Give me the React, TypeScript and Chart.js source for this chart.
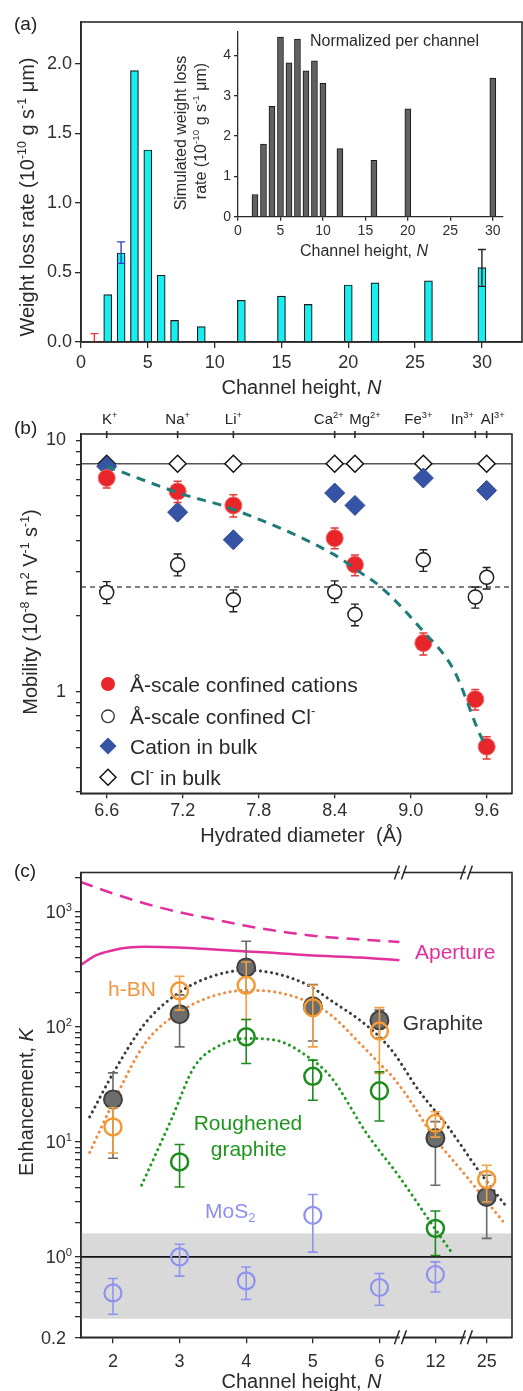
import React, { useEffect, useRef } from 'react';
import { Chart, registerables } from 'chart.js';

Chart.register(...registerables);

const FONT = '"Liberation Sans", Arial, Helvetica, sans-serif';
const INK = '#2a2a2a';

// ---------------- Panel (a): measured weight loss rate
const aChannel = [2, 3, 4, 5, 6, 7, 9, 12, 15, 17, 20, 22, 26, 30];
const aRate = [0.34, 0.64, 1.95, 1.38, 0.48, 0.155, 0.11, 0.30, 0.33, 0.27, 0.41, 0.425, 0.44, 0.535];
const aErrChannel = [1, 3, 30];
const aErrLow = [0, 0.565, 0.40];
const aErrHigh = [0.06, 0.72, 0.665];
const aErrColor = ['#e04040', '#2f3fd0', '#222222'];
const aXTicks = [0, 5, 10, 15, 20, 25, 30];
const aYTicks = [0, 0.5, 1.0, 1.5, 2.0];

// inset: simulated, normalized per channel
const insetChannel = [2, 3, 4, 5, 6, 7, 8, 9, 10, 12, 16, 20, 30];
const insetRate = [0.55, 1.80, 2.74, 4.46, 3.82, 4.41, 3.62, 3.87, 3.31, 1.69, 1.40, 2.68, 3.44];
const insetXTicks = [0, 5, 10, 15, 20, 25, 30];
const insetYTicks = [0, 1, 2, 3, 4];

// ---------------- Panel (b): mobility vs hydrated diameter
const ionName = ['K', 'Na', 'Li', 'Ca', 'Mg', 'Fe', 'In', 'Al'];
const ionCharge = ['+', '+', '+', '2+', '2+', '3+', '3+', '3+'];
const ionDiameter = [6.6, 7.16, 7.6, 8.4, 8.56, 9.1, 9.51, 9.6];
const ionLabelShift = [3, 0, 0, -6, 10, -5, -13, 6];
const cationConfined = [7.08, 6.26, 5.51, 4.08, 3.20, 1.56, 0.933, 0.604];
const cationConfinedLo = [6.46, 5.66, 4.95, 3.70, 2.89, 1.40, 0.845, 0.54];
const cationConfinedHi = [7.42, 6.87, 6.08, 4.48, 3.50, 1.71, 1.02, 0.662];
const chlorideConfined = [2.48, 3.20, 2.32, 2.50, 2.03, 3.35, 2.38, 2.85];
const chlorideConfinedLo = [2.24, 2.89, 2.08, 2.26, 1.83, 3.01, 2.15, 2.56];
const chlorideConfinedHi = [2.74, 3.53, 2.54, 2.76, 2.23, 3.67, 2.61, 3.12];
const cationBulk = [7.88, 5.18, 4.02, 6.17, 5.51, 7.08, null, 6.32];
const chlorideBulk = [8.07, 8.07, 8.07, 8.07, 8.07, 8.07, null, 8.07];
const chlorideBulkLevel = 8.07;
const chlorideConfinedLevel = 2.61;
const fitDiameter = [6.6, 7.21, 7.57, 8.4, 8.59, 8.76, 9.09, 9.34, 9.555, 9.6];
const fitMobility = [7.88, 6.08, 5.38, 3.50, 3.01, 2.62, 1.76, 1.22, 0.662, 0.602];
const bXTicks = [6.6, 7.2, 7.8, 8.4, 9.0, 9.6];
const bYTicks = [0.4, 0.5, 0.6, 0.7, 0.8, 0.9, 1, 2, 3, 4, 5, 6, 7, 8, 9, 10];

// ---------------- Panel (c): enhancement vs channel height (broken axis)
const cChannelLabels = ['2', '3', '4', '5', '6', '12', '25'];
const cSlot = [0, 1, 2, 3, 4, 4.84, 5.61];
const cBreakSlots = [4.33, 5.32];
const graphiteK = [23.4, 129, 329, 151, 114, 10.8, 3.32];
const graphiteLo = [7.2, 67, 200, 75.5, 80, 4.2, 1.45];
const graphiteHi = [39.8, 190, 556, 234, 140, 15, 5.13];
const hbnK = [13.5, 206, 230, 147, 92, 14.5, 4.71];
const hbnLo = [8.0, 140, 116, 67, 39.3, 11, 3.0];
const hbnHi = [19.8, 276, 367, 230, 147, 18.3, 6.27];
const roughK = [null, 6.7, 81.9, 37.2, 27.8, 1.77, null];
const roughLo = [null, 4.06, 48, 23, 15.2, 1.03, null];
const roughHi = [null, 9.5, 116, 51.4, 40.6, 2.51, null];
const mos2K = [0.486, 1.0, 0.619, 2.30, 0.542, 0.703, null];
const mos2Lo = [0.317, 0.68, 0.426, 1.1, 0.38, 0.496, null];
const mos2Hi = [0.65, 1.29, 0.818, 3.49, 0.717, 0.905, null];
const graphiteFitSlot = [-0.35, 0, 0.48, 0.97, 1.46, 2.0, 2.44, 2.93, 3.27, 3.71, 4.0, 4.2, 4.59, 5.03, 5.52, 5.91];
const graphiteFitK = [16.5, 39.3, 107, 195, 272, 311, 291, 230, 170, 114, 82, 61, 28, 13.5, 5.31, 2.72];
const hbnFitSlot = [-0.35, 0.02, 0.48, 0.97, 1.46, 2.0, 2.44, 2.93, 3.27, 3.71, 4.0, 4.2, 4.49, 4.78, 5.27, 5.86];
const hbnFitK = [8.1, 23, 71.7, 131, 182, 208, 201, 165, 127, 71.7, 48, 36.7, 21.6, 11.8, 5.31, 2.02];
const roughFitSlot = [0.43, 0.87, 1.22, 1.56, 2.0, 2.44, 2.93, 3.27, 3.81, 4.3, 4.78, 5.08];
const roughFitK = [4.2, 15.4, 44.9, 67, 79.3, 76.6, 54.8, 36.7, 11.8, 4.96, 1.95, 1.1];
const apertureUpperSlot = [-0.49, 0, 0.48, 0.97, 1.46, 1.95, 2.44, 2.93, 3.71, 4.3];
const apertureUpperK = [1824, 1445, 1183, 1000, 876, 766, 684, 627, 575, 548];
const apertureSlot = [-0.49, -0.25, 0, 0.24, 0.48, 0.97, 1.46, 1.95, 2.44, 2.93, 3.71, 4.3];
const apertureK = [344, 420, 464, 490, 497, 490, 474, 455, 440, 420, 401, 380];
const bandLow = 0.29;
const bandHigh = 1.6;
const unityK = 1;
const cYTicks = [0.2, 0.3, 0.4, 0.5, 0.6, 0.7, 0.8, 0.9, 1, 2, 3, 4, 5, 6, 7, 8, 9, 10, 20, 30, 40, 50, 60, 70, 80, 90,
  100, 200, 300, 400, 500, 600, 700, 800, 900, 1000, 2000];
const cYLabelValues = [1000, 100, 10, 1];
const cYLabelExp = ['3', '2', '1', '0'];

// ---------------- helpers
type Seg = [string, string?];

function segFont(kind: string | undefined, size: number) {
  const s = kind === 'sup' || kind === 'sub' ? size * 0.62 : size;
  const st = kind === 'i' ? 'italic ' : '';
  return `${st}${s}px ${FONT}`;
}

function drawRich(ctx: CanvasRenderingContext2D, segs: Seg[], x: number, y: number, size: number, color: string,
  align: 'left' | 'center' | 'right' = 'left', angle = 0) {
  ctx.save();
  ctx.translate(x, y);
  if (angle) ctx.rotate(angle);
  ctx.fillStyle = color;
  ctx.textBaseline = 'alphabetic';
  ctx.textAlign = 'left';
  const widths = segs.map(([t, k]) => { ctx.font = segFont(k, size); return ctx.measureText(t).width; });
  const total = widths.reduce((a, b) => a + b, 0);
  let cx = align === 'center' ? -total / 2 : align === 'right' ? -total : 0;
  const base = size * 0.36;
  segs.forEach(([t, k], i) => {
    ctx.font = segFont(k, size);
    let dy = base;
    if (k === 'sup') dy = base - size * 0.42;
    if (k === 'sub') dy = base + size * 0.2;
    ctx.fillText(t, cx, dy);
    cx += widths[i];
  });
  ctx.restore();
}

function frame(chart: any, lw = 1.6) {
  const { ctx, chartArea: a } = chart;
  ctx.save();
  ctx.strokeStyle = INK;
  ctx.lineWidth = lw;
  ctx.strokeRect(a.left, a.top, a.right - a.left, a.bottom - a.top);
  ctx.restore();
}

function axis(o: any) {
  const { size = 18, tickLen = 6, pad = 3, fit, ticks, label, borderW = 1.6, ...rest } = o;
  return {
    ...rest,
    offset: false,
    afterFit: fit,
    afterBuildTicks: (s: any) => { s.ticks = ticks.map((v: number) => ({ value: v })); },
    grid: { drawOnChartArea: false, drawTicks: true, tickLength: tickLen, color: INK, lineWidth: 1.3, offset: false },
    border: { display: true, color: INK, width: borderW },
    ticks: { font: { size, family: FONT }, color: '#2f2f2f', padding: pad, maxRotation: 0, minRotation: 0, autoSkip: false, callback: label },
  };
}

function errBar(ctx: any, x: number, y1: number, y2: number, cap: number) {
  ctx.beginPath();
  ctx.moveTo(x, y1); ctx.lineTo(x, y2);
  ctx.moveTo(x - cap, y1); ctx.lineTo(x + cap, y1);
  ctx.moveTo(x - cap, y2); ctx.lineTo(x + cap, y2);
  ctx.stroke();
}

const errorBarPlugin = {
  id: 'errorBars',
  beforeDatasetDraw(chart: any, args: any) {
    const ds: any = chart.data.datasets[args.index];
    if (!ds.errLo) return;
    const ys = chart.scales.y;
    const ctx = chart.ctx;
    ctx.save();
    ctx.strokeStyle = ds.errColor;
    ctx.lineWidth = ds.errWidth || 1.4;
    args.meta.data.forEach((el: any, i: number) => {
      const lo = ds.errLo[i], hi = ds.errHi[i];
      if (lo == null || hi == null) return;
      errBar(ctx, el.x, ys.getPixelForValue(lo), ys.getPixelForValue(hi), ds.capW || 4);
    });
    ctx.restore();
  },
};

function series(xs: number[], ys: (number | null)[], lo?: (number | null)[], hi?: (number | null)[]) {
  const data: any[] = [], l: any[] = [], h: any[] = [];
  xs.forEach((x, i) => {
    if (ys[i] == null) return;
    data.push({ x, y: ys[i] });
    l.push(lo ? lo[i] : null);
    h.push(hi ? hi[i] : null);
  });
  return { data, errLo: lo ? l : undefined, errHi: hi ? h : undefined };
}

const baseOpts = (padTop: number, padRight: number) => ({
  animation: false as const,
  responsive: false,
  events: [] as any[],
  layout: { padding: { left: 0, top: padTop, right: padRight, bottom: 0 } },
  plugins: { legend: { display: false }, tooltip: { enabled: false } },
});

// ---------------- Panel (a)
function makeA(canvas: HTMLCanvasElement) {
  const W = 523, H = 405;
  const area = { left: 81, top: 22, right: 522, bottom: 342 };
  const plugin = {
    id: 'panelA',
    afterDatasetsDraw(chart: any) {
      const { ctx, scales: { x, y } } = chart;
      ctx.save();
      ctx.lineWidth = 1.4;
      aErrChannel.forEach((n, i) => {
        ctx.strokeStyle = aErrColor[i];
        errBar(ctx, x.getPixelForValue(n), y.getPixelForValue(aErrLow[i]), y.getPixelForValue(aErrHigh[i]), 4);
      });
      ctx.restore();
    },
    afterDraw(chart: any) {
      const ctx = chart.ctx;
      frame(chart);
      drawRich(ctx, [['(a)']], 14, 23, 19, '#222');
      drawRich(ctx, [['Channel height, '], ['N', 'i']], 301.5, 387, 20, '#2a2a2a', 'center');
      drawRich(ctx, [['Weight loss rate (10'], ['-10', 'sup'], [' g s'], ['-1', 'sup'], [' μm)']], 27, 197, 20, '#2a2a2a', 'center', -Math.PI / 2);
    },
  };
  return new Chart(canvas, {
    type: 'bar',
    data: {
      datasets: [{
        data: aChannel.map((x, i) => ({ x, y: aRate[i] })),
        backgroundColor: '#18eef0', borderColor: '#1b1b1b', borderWidth: 1.2, barThickness: 8,
      } as any],
    },
    options: {
      ...baseOpts(area.top, W - area.right),
      scales: {
        x: axis({ type: 'linear', min: 0, max: 33, fit: (s: any) => { s.height = H - area.bottom; }, ticks: aXTicks, label: (v: any) => String(v), pad: 4 }),
        y: axis({ type: 'linear', min: 0, max: 2.3, fit: (s: any) => { s.width = area.left; }, ticks: aYTicks, label: (v: any) => Number(v).toFixed(1) }),
      },
    } as any,
    plugins: [plugin],
  });
}

function makeInset(canvas: HTMLCanvasElement) {
  const W = 373, H = 250;
  const area = { left: 88, top: 6.7, right: 353, bottom: 196.7 };
  const plugin = {
    id: 'inset',
    afterDraw(chart: any) {
      const ctx = chart.ctx;
      drawRich(ctx, [['Normalized per channel']], 160, 20, 16, '#2a2a2a');
      drawRich(ctx, [['Channel height, '], ['N', 'i']], 214, 230, 16, '#2a2a2a', 'center');
      drawRich(ctx, [['Simulated weight loss']], 30, 113, 16, '#2a2a2a', 'center', -Math.PI / 2);
      drawRich(ctx, [['rate (10'], ['-10', 'sup'], [' g s'], ['-1', 'sup'], [' μm)']], 50, 111, 16, '#2a2a2a', 'center', -Math.PI / 2);
    },
  };
  return new Chart(canvas, {
    type: 'bar',
    data: {
      datasets: [{
        data: insetChannel.map((x, i) => ({ x, y: insetRate[i] })),
        backgroundColor: '#616161', borderColor: '#151515', borderWidth: 1, barThickness: 6,
      } as any],
    },
    options: {
      ...baseOpts(area.top, W - area.right),
      scales: {
        x: axis({ type: 'linear', min: 0, max: 31.2, size: 14, tickLen: 4, pad: 2, borderW: 1.3, fit: (s: any) => { s.height = H - area.bottom; }, ticks: insetXTicks, label: (v: any) => String(v) }),
        y: axis({ type: 'linear', min: 0, max: 4.6, size: 14, tickLen: 4, pad: 3, borderW: 1.3, fit: (s: any) => { s.width = area.left; }, ticks: insetYTicks, label: (v: any) => String(v) }),
      },
    } as any,
    plugins: [plugin],
  });
}

// ---------------- Panel (b)
function makeB(canvas: HTMLCanvasElement) {
  const W = 523, H = 445;
  const area = { left: 81, top: 29, right: 522, bottom: 388.3 };
  const plugin = {
    id: 'panelB',
    beforeDatasetsDraw(chart: any) {
      const { ctx, chartArea: a, scales: { y } } = chart;
      ctx.save();
      ctx.strokeStyle = '#555';
      ctx.lineWidth = 1.5;
      let py = y.getPixelForValue(chlorideBulkLevel);
      ctx.beginPath(); ctx.moveTo(a.left, py); ctx.lineTo(a.right, py); ctx.stroke();
      py = y.getPixelForValue(chlorideConfinedLevel);
      ctx.setLineDash([5, 4]);
      ctx.beginPath(); ctx.moveTo(a.left, py); ctx.lineTo(a.right, py); ctx.stroke();
      ctx.restore();
    },
    afterDraw(chart: any) {
      const { ctx, chartArea: a, scales: { x } } = chart;
      frame(chart);
      ctx.save();
      ctx.strokeStyle = INK;
      ctx.lineWidth = 1.6;
      ionDiameter.forEach((d, i) => {
        const px = x.getPixelForValue(d);
        ctx.beginPath(); ctx.moveTo(px, a.top - 3); ctx.lineTo(px, a.top + 4); ctx.stroke();
        drawRich(ctx, [[ionName[i]], [ionCharge[i], 'sup']], px + ionLabelShift[i], 14, 15, '#222', 'center');
      });
      ctx.restore();
      drawRich(ctx, [['(b)']], 14, 22, 19, '#222');
      drawRich(ctx, [['Hydrated diameter  (Å)']], 301.5, 430, 20, '#2a2a2a', 'center');
      drawRich(ctx, [['Mobility (10'], ['-8', 'sup'], [' m'], ['2', 'sup'], [' V'], ['-1', 'sup'], [' s'], ['-1', 'sup'], [')']], 30, 207, 20, '#2a2a2a', 'center', -Math.PI / 2);
      // legend
      const rows = [279, 311.3, 341, 372.3];
      const mx = 108, tx = 130;
      ctx.save();
      ctx.fillStyle = '#e8262a';
      ctx.beginPath(); ctx.arc(mx, rows[0], 7, 0, Math.PI * 2); ctx.fill();
      ctx.strokeStyle = '#333'; ctx.lineWidth = 1.3;
      ctx.beginPath(); ctx.arc(mx, rows[1], 6.3, 0, Math.PI * 2); ctx.stroke();
      ctx.fillStyle = '#3654a5';
      ctx.beginPath(); ctx.moveTo(mx - 8.5, rows[2]); ctx.lineTo(mx, rows[2] - 8.5); ctx.lineTo(mx + 8.5, rows[2]); ctx.lineTo(mx, rows[2] + 8.5); ctx.closePath(); ctx.fill();
      ctx.strokeStyle = '#111'; ctx.lineWidth = 1.5;
      ctx.beginPath(); ctx.moveTo(mx - 8, rows[3]); ctx.lineTo(mx, rows[3] - 8); ctx.lineTo(mx + 8, rows[3]); ctx.lineTo(mx, rows[3] + 8); ctx.closePath(); ctx.stroke();
      ctx.restore();
      drawRich(ctx, [['Å-scale confined cations']], tx, rows[0], 21, '#2a2a2a');
      drawRich(ctx, [['Å-scale confined Cl'], ['-', 'sup']], tx, rows[1], 21, '#2a2a2a');
      drawRich(ctx, [['Cation in bulk']], tx, rows[2], 21, '#2a2a2a');
      drawRich(ctx, [['Cl'], ['-', 'sup'], [' in bulk']], tx, rows[3], 21, '#2a2a2a');
    },
  };
  const red = series(ionDiameter, cationConfined, cationConfinedLo, cationConfinedHi);
  const open = series(ionDiameter, chlorideConfined, chlorideConfinedLo, chlorideConfinedHi);
  const blue = series(ionDiameter, cationBulk);
  const clb = series(ionDiameter, chlorideBulk);
  return new Chart(canvas, {
    type: 'scatter',
    data: {
      datasets: [
        { data: fitDiameter.map((x, i) => ({ x, y: fitMobility[i] })), showLine: true, borderColor: '#1f7c78', borderWidth: 3, borderDash: [9, 7], pointRadius: 0, cubicInterpolationMode: 'monotone', order: 0 },
        { data: red.data, errLo: red.errLo, errHi: red.errHi, errColor: '#e23a3a', errWidth: 1.5, capW: 4, pointRadius: 8.5, pointStyle: 'circle', pointBackgroundColor: '#e8262a', pointBorderColor: '#f06a6a', pointBorderWidth: 1, order: 1 },
        { data: blue.data, pointStyle: 'rectRot', pointRadius: 10, pointBackgroundColor: '#3654a5', pointBorderColor: '#2d4791', pointBorderWidth: 1, order: 2 },
        { data: open.data, errLo: open.errLo, errHi: open.errHi, errColor: '#1e1e1e', errWidth: 1.4, capW: 4, pointRadius: 7, pointBackgroundColor: '#ffffff', pointBorderColor: '#1e1e1e', pointBorderWidth: 1.5, order: 3 },
        { data: clb.data, pointStyle: 'rectRot', pointRadius: 8.5, pointBackgroundColor: '#ffffff', pointBorderColor: '#111', pointBorderWidth: 1.5, order: 4 },
      ] as any,
    },
    options: {
      ...baseOpts(area.top, W - area.right),
      scales: {
        x: axis({ type: 'linear', min: 6.397, max: 9.80, fit: (s: any) => { s.height = H - area.bottom; }, ticks: bXTicks, label: (v: any) => Number(v).toFixed(1), pad: 2, tickLen: 5 }),
        y: axis({ type: 'logarithmic', min: 0.394, max: 10.6, fit: (s: any) => { s.width = area.left; }, ticks: bYTicks, label: (v: any) => (v === 1 ? '1' : v === 10 ? '10' : ''), pad: 10, tickLen: 5 }),
      },
    } as any,
    plugins: [errorBarPlugin, plugin],
  });
}

// ---------------- Panel (c)
function makeC(canvas: HTMLCanvasElement) {
  const W = 523, H = 541;
  const area = { left: 81, top: 22.5, right: 522, bottom: 487.3 };
  const plugin = {
    id: 'panelC',
    beforeDatasetsDraw(chart: any) {
      const { ctx, chartArea: a, scales: { y } } = chart;
      ctx.save();
      const t = y.getPixelForValue(bandHigh), b = y.getPixelForValue(bandLow);
      ctx.fillStyle = '#d9d9d9';
      ctx.fillRect(a.left, t, a.right - a.left, b - t);
      const u = y.getPixelForValue(unityK);
      ctx.strokeStyle = '#151515'; ctx.lineWidth = 1.8;
      ctx.beginPath(); ctx.moveTo(a.left, u); ctx.lineTo(a.right, u); ctx.stroke();
      ctx.restore();
    },
    afterDraw(chart: any) {
      const { ctx, chartArea: a, scales: { x, y } } = chart;
      frame(chart);
      ctx.save();
      cBreakSlots.forEach((s) => {
        const cx = x.getPixelForValue(s);
        [a.top, a.bottom].forEach((yy: number) => {
          ctx.fillStyle = '#fff';
          ctx.beginPath();
          ctx.moveTo(cx - 4, yy + 7); ctx.lineTo(cx + 1, yy - 7); ctx.lineTo(cx + 4, yy - 7); ctx.lineTo(cx - 1, yy + 7); ctx.closePath();
          ctx.fill();
          ctx.strokeStyle = INK; ctx.lineWidth = 1.5;
          ctx.beginPath();
          ctx.moveTo(cx - 7, yy + 7); ctx.lineTo(cx - 2, yy - 7);
          ctx.moveTo(cx, yy + 7); ctx.lineTo(cx + 5, yy - 7);
          ctx.stroke();
        });
      });
      ctx.restore();
      cYLabelValues.forEach((v, i) => {
        drawRich(ctx, [['10'], [cYLabelExp[i], 'sup']], 72, y.getPixelForValue(v), 18, '#2f2f2f', 'right');
      });
      drawRich(ctx, [['0.2']], 66, y.getPixelForValue(0.2), 18, '#2f2f2f', 'right');
      drawRich(ctx, [['(c)']], 14, 20, 19, '#222');
      drawRich(ctx, [['Channel height, '], ['N', 'i']], 301.5, 531, 20, '#2a2a2a', 'center');
      drawRich(ctx, [['Enhancement, '], ['K', 'i']], 26, 252, 20, '#2a2a2a', 'center', -Math.PI / 2);
      drawRich(ctx, [['Aperture']], 415, 101.7, 21, '#e0309c');
      drawRich(ctx, [['h-BN']], 108, 138, 21, '#f0963c');
      drawRich(ctx, [['Graphite']], 402.7, 172.7, 21, '#333333');
      drawRich(ctx, [['Roughened']], 248, 272, 21, '#1e961e', 'center');
      drawRich(ctx, [['graphite']], 248.7, 298.3, 21, '#1e961e', 'center');
      drawRich(ctx, [['MoS'], ['2', 'sub']], 205, 360, 21, '#8c8ff0');
    },
  };
  const g = series(cSlot, graphiteK, graphiteLo, graphiteHi);
  const h = series(cSlot, hbnK, hbnLo, hbnHi);
  const r = series(cSlot, roughK, roughLo, roughHi);
  const m = series(cSlot, mos2K, mos2Lo, mos2Hi);
  const curve = (xs: number[], ys: number[], color: string, dash: number[], width: number, cap: string, order: number) => ({
    data: xs.map((xv, i) => ({ x: xv, y: ys[i] })), showLine: true, borderColor: color, borderWidth: width, borderDash: dash,
    borderCapStyle: cap, pointRadius: 0, cubicInterpolationMode: 'monotone', order,
  });
  return new Chart(canvas, {
    type: 'scatter',
    data: {
      datasets: [
        { data: m.data, errLo: m.errLo, errHi: m.errHi, errColor: '#9093ee', errWidth: 1.6, capW: 5, pointRadius: 8.5, pointBackgroundColor: 'rgba(0,0,0,0)', pointBorderColor: '#8e91ee', pointBorderWidth: 2.2, order: 0 },
        { data: r.data, errLo: r.errLo, errHi: r.errHi, errColor: '#1f8a1f', errWidth: 1.6, capW: 5, pointRadius: 8.5, pointBackgroundColor: 'rgba(0,0,0,0)', pointBorderColor: '#1d8c1d', pointBorderWidth: 2.5, order: 1 },
        { data: h.data, errLo: h.errLo, errHi: h.errHi, errColor: '#f2a040', errWidth: 1.6, capW: 5, pointRadius: 8.5, pointBackgroundColor: 'rgba(0,0,0,0)', pointBorderColor: '#f39a35', pointBorderWidth: 2.5, order: 2 },
        { data: g.data, errLo: g.errLo, errHi: g.errHi, errColor: '#6a6a6a', errWidth: 1.6, capW: 5, pointRadius: 9, pointBackgroundColor: '#6d6d6d', pointBorderColor: '#404040', pointBorderWidth: 2, order: 3 },
        curve(hbnFitSlot, hbnFitK, '#f08a3c', [0.1, 5.5], 3, 'round', 4),
        curve(graphiteFitSlot, graphiteFitK, '#3a3a3a', [0.1, 5.5], 3, 'round', 5),
        curve(roughFitSlot, roughFitK, '#1e9a1e', [0.1, 5.5], 3, 'round', 6),
        curve(apertureSlot, apertureK, '#e2309c', [], 2.5, 'butt', 7),
        curve(apertureUpperSlot, apertureUpperK, '#e2309c', [13, 8], 2.5, 'butt', 8),
      ] as any,
    },
    options: {
      ...baseOpts(area.top, W - area.right),
      scales: {
        x: axis({ type: 'linear', min: -0.48, max: 5.99, fit: (s: any) => { s.height = H - area.bottom; }, ticks: cSlot, label: (v: any) => { const i = cSlot.indexOf(v); return i >= 0 ? cChannelLabels[i] : ''; }, pad: 8, tickLen: 6 }),
        y: axis({ type: 'logarithmic', min: 0.2, max: 2200, fit: (s: any) => { s.width = area.left; }, ticks: cYTicks, label: () => '', pad: 3, tickLen: 6 }),
      },
    } as any,
    plugins: [errorBarPlugin, plugin],
  });
}

export default function App() {
  const aRef = useRef<HTMLCanvasElement>(null);
  const insetRef = useRef<HTMLCanvasElement>(null);
  const bRef = useRef<HTMLCanvasElement>(null);
  const cRef = useRef<HTMLCanvasElement>(null);
  useEffect(() => {
    Chart.defaults.font.family = FONT;
    const charts = [makeA(aRef.current!), makeInset(insetRef.current!), makeB(bRef.current!), makeC(cRef.current!)];
    return () => charts.forEach((c) => c.destroy());
  }, []);
  const pos = (l: number, t: number, w: number, h: number): React.CSSProperties => ({ position: 'absolute', left: l, top: t, width: w, height: h });
  return (
    <div style={{ position: 'absolute', left: 0, top: 0, width: 523, height: 1391, background: '#ffffff', overflow: 'hidden' }}>
      <canvas ref={aRef} width={523} height={405} style={pos(0, 0, 523, 405)} />
      <canvas ref={insetRef} width={373} height={250} style={pos(150, 20, 373, 250)} />
      <canvas ref={bRef} width={523} height={445} style={pos(0, 405, 523, 445)} />
      <canvas ref={cRef} width={523} height={541} style={pos(0, 850, 523, 541)} />
    </div>
  );
}
